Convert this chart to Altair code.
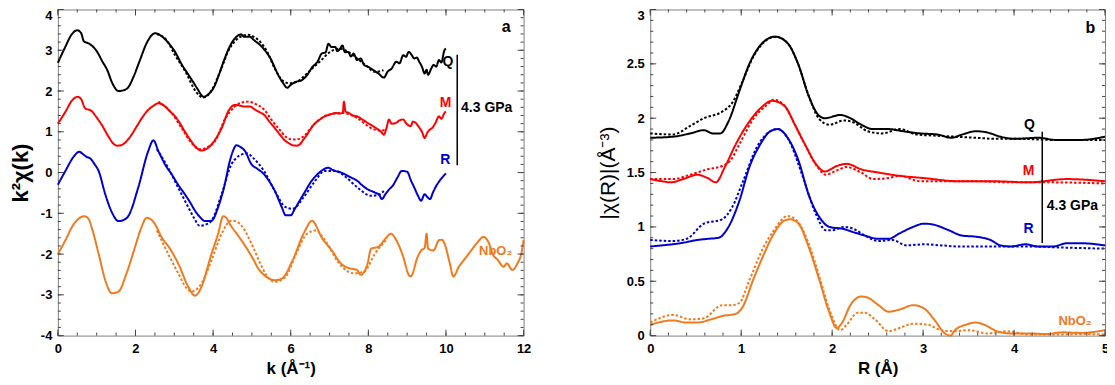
import altair as alt
import pandas as pd

FONT = "Liberation Sans"
FRAME = "#808080"
TICK = "#444444"
SERIES = ["Q", "M", "R", "NbO2"]
SERIES_COLORS = ["#000000", "#ff0000", "#0000cc", "#f07a1e"]

# ---------------- panel a : k^2 chi(k) ----------------
q_exp = [(0, 2.69), (0.2, 3.1), (0.35, 3.38), (0.5, 3.49), (0.6, 3.42), (0.67, 3.22), (0.81, 3.16), (1.0, 2.98),
         (1.15, 2.72), (1.27, 2.52), (1.4, 2.2), (1.56, 2.0), (1.7, 2.02), (1.82, 2.1), (1.95, 2.35), (2.1, 2.72),
         (2.3, 3.2), (2.51, 3.42), (2.65, 3.36), (2.83, 3.2), (3.02, 2.96), (3.2, 2.64), (3.35, 2.42), (3.48, 2.23),
         (3.6, 2.05), (3.75, 1.86), (3.88, 1.92), (4.03, 2.11), (4.15, 2.4), (4.3, 2.8), (4.49, 3.2), (4.6, 3.33),
         (4.72, 3.39), (4.8, 3.33), (4.95, 3.33), (5.05, 3.25), (5.22, 3.12), (5.35, 2.98), (5.5, 2.76), (5.6, 2.55),
         (5.68, 2.39), (5.8, 2.2), (5.91, 2.08), (6.0, 2.15), (6.14, 2.23), (6.25, 2.25), (6.42, 2.39), (6.55, 2.58),
         (6.69, 2.72), (6.8, 2.92), (6.9, 2.95), (6.97, 3.16), (7.05, 3.08), (7.15, 3.08), (7.2, 2.98), (7.28, 3.05),
         (7.33, 3.12), (7.4, 2.95), (7.48, 2.96), (7.55, 2.85), (7.62, 2.92), (7.71, 2.76), (7.8, 2.8), (7.89, 2.64),
         (7.98, 2.6), (8.07, 2.55), (8.15, 2.5), (8.26, 2.43), (8.4, 2.33), (8.5, 2.48), (8.6, 2.55), (8.72, 2.72),
         (8.8, 2.68), (8.9, 2.88), (8.97, 2.84), (9.04, 2.96), (9.12, 2.88), (9.18, 2.8), (9.25, 2.82), (9.31, 2.72),
         (9.38, 2.6), (9.45, 2.43), (9.5, 2.52), (9.54, 2.4), (9.62, 2.55), (9.68, 2.64), (9.75, 2.6), (9.82, 2.76),
         (9.88, 2.7), (9.96, 3.0), (10.0, 3.04)]
q_fit = [(2.55, 3.4), (2.8, 3.25), (3.02, 2.88), (3.29, 2.47), (3.56, 1.98), (3.75, 1.84), (3.95, 2.0), (4.21, 2.55),
         (4.4, 3.0), (4.58, 3.24), (4.75, 3.35), (4.9, 3.38), (5.05, 3.33), (5.22, 3.2), (5.4, 2.95), (5.59, 2.55),
         (5.8, 2.25), (5.96, 2.19), (6.15, 2.22), (6.33, 2.35), (6.55, 2.55), (6.79, 2.76), (7.0, 2.95), (7.25, 3.04),
         (7.5, 2.95), (7.71, 2.8), (7.95, 2.62), (8.17, 2.47), (8.39, 2.51)]
m_exp = [(0, 1.2), (0.2, 1.5), (0.35, 1.75), (0.51, 1.86), (0.6, 1.8), (0.7, 1.58), (0.87, 1.51), (1.0, 1.35),
         (1.13, 1.17), (1.3, 0.89), (1.42, 0.72), (1.53, 0.66), (1.65, 0.68), (1.77, 0.77), (1.9, 0.93), (2.03, 1.13),
         (2.16, 1.33), (2.29, 1.5), (2.45, 1.63), (2.59, 1.7), (2.75, 1.63), (2.89, 1.5), (3.02, 1.38), (3.15, 1.2),
         (3.27, 1.01), (3.4, 0.82), (3.53, 0.65), (3.7, 0.54), (3.83, 0.58), (3.96, 0.69), (4.1, 0.88), (4.22, 1.09),
         (4.39, 1.5), (4.56, 1.66), (4.7, 1.64), (4.82, 1.62), (4.95, 1.62), (5.07, 1.55), (5.2, 1.48), (5.31, 1.42),
         (5.45, 1.25), (5.59, 1.09), (5.73, 0.92), (5.87, 0.77), (5.95, 0.72), (6.05, 0.67), (6.15, 0.66), (6.23, 0.69),
         (6.32, 0.8), (6.42, 0.93), (6.5, 1.05), (6.6, 1.18), (6.75, 1.3), (6.88, 1.38), (7.0, 1.42), (7.15, 1.46),
         (7.25, 1.45), (7.34, 1.46), (7.37, 1.74), (7.41, 1.5), (7.5, 1.46), (7.6, 1.4), (7.71, 1.38), (7.85, 1.3),
         (7.98, 1.22), (8.1, 1.15), (8.26, 1.05), (8.33, 1.0), (8.4, 0.93), (8.47, 1.1), (8.53, 1.3), (8.6, 1.2),
         (8.72, 1.22), (8.8, 1.28), (8.9, 1.3), (8.98, 1.2), (9.09, 1.14), (9.15, 1.25), (9.22, 1.22), (9.3, 1.12),
         (9.38, 1.0), (9.45, 0.85), (9.52, 0.98), (9.58, 1.05), (9.64, 1.09), (9.72, 1.2), (9.82, 1.38), (9.88, 1.32),
         (9.96, 1.46), (10.0, 1.5)]
m_fit = [(2.59, 1.74), (2.93, 1.46), (3.19, 1.09), (3.44, 0.73), (3.66, 0.57), (3.85, 0.62), (4.05, 0.77),
         (4.3, 1.3), (4.56, 1.62), (4.75, 1.72), (4.9, 1.74), (5.1, 1.68), (5.31, 1.55), (5.5, 1.3), (5.68, 1.09),
         (5.87, 0.88), (6.05, 0.81), (6.2, 0.82), (6.33, 0.89), (6.6, 1.18), (6.97, 1.42), (7.34, 1.46), (7.71, 1.34),
         (8.07, 1.09), (8.3, 1.03), (8.44, 1.05)]
r_exp = [(0, -0.3), (0.2, 0.05), (0.4, 0.38), (0.55, 0.51), (0.65, 0.45), (0.75, 0.38), (0.83, 0.35), (0.95, 0.2),
         (1.05, 0.04), (1.22, -0.53), (1.39, -0.97), (1.56, -1.19), (1.7, -1.16), (1.82, -1.06), (2.07, -0.37),
         (2.33, 0.53), (2.46, 0.79), (2.59, 0.53), (2.76, 0.2), (2.93, -0.04), (3.1, -0.3), (3.27, -0.53),
         (3.4, -0.72), (3.53, -0.93), (3.65, -1.08), (3.79, -1.19), (3.96, -1.18), (4.13, -0.85), (4.3, -0.29),
         (4.43, 0.28), (4.52, 0.55), (4.6, 0.67), (4.7, 0.63), (4.82, 0.53), (4.99, 0.2), (5.13, 0.1), (5.31, -0.04),
         (5.45, -0.22), (5.59, -0.45), (5.77, -0.85), (5.87, -1.05), (6.0, -1.05), (6.1, -0.9), (6.23, -0.69),
         (6.38, -0.45), (6.51, -0.24), (6.65, -0.08), (6.79, 0.04), (6.97, 0.12), (7.05, 0.08), (7.15, 0.04),
         (7.3, 0.0), (7.43, -0.06), (7.55, -0.12), (7.71, -0.2), (7.85, -0.32), (7.98, -0.41), (8.17, -0.49),
         (8.28, -0.55), (8.35, -0.65), (8.44, -0.53), (8.53, -0.42), (8.63, -0.32), (8.75, -0.12), (8.86, 0.04),
         (9.0, 0.02), (9.1, -0.2), (9.18, -0.36), (9.27, -0.55), (9.36, -0.69), (9.45, -0.53), (9.52, -0.6),
         (9.59, -0.65), (9.66, -0.5), (9.73, -0.36), (9.8, -0.25), (9.87, -0.16), (9.94, -0.08), (10.0, -0.02)]
r_fit = [(2.55, 0.57), (2.84, 0.12), (3.1, -0.37), (3.36, -0.85), (3.5, -1.1), (3.66, -1.31), (3.8, -1.28),
         (3.96, -1.18), (4.22, -0.53), (4.47, 0.2), (4.6, 0.36), (4.73, 0.44), (4.88, 0.47), (5.03, 0.36),
         (5.31, 0.04), (5.59, -0.45), (5.87, -0.85), (6.05, -0.89), (6.33, -0.61), (6.6, -0.24), (6.88, 0.04),
         (7.15, 0.04), (7.43, -0.12), (7.71, -0.36), (8.07, -0.57), (8.25, -0.55), (8.4, -0.45)]
n_exp = [(0, -2.0), (0.2, -1.65), (0.36, -1.34), (0.55, -1.12), (0.69, -1.07), (0.8, -1.15), (0.87, -1.34),
         (1.05, -1.99), (1.22, -2.64), (1.39, -2.96), (1.56, -2.92), (1.77, -2.47), (1.99, -1.82), (2.15, -1.35),
         (2.29, -1.11), (2.4, -1.15), (2.5, -1.26), (2.67, -1.58), (2.89, -1.87), (3.1, -2.23), (3.36, -2.8),
         (3.53, -3.02), (3.62, -2.95), (3.7, -2.8), (3.96, -1.99), (4.13, -1.5), (4.26, -1.07), (4.35, -1.12),
         (4.43, -1.26), (4.64, -1.54), (4.9, -1.91), (5.07, -2.19), (5.13, -2.3), (5.36, -2.55), (5.59, -2.64),
         (5.77, -2.6), (6.05, -2.15), (6.33, -1.5), (6.56, -1.18), (6.6, -1.22), (6.79, -1.58), (7.06, -1.91),
         (7.29, -2.23), (7.52, -2.35), (7.71, -2.39), (7.8, -2.51), (7.98, -2.23), (8.07, -1.87), (8.26, -1.82),
         (8.44, -1.62), (8.58, -1.5), (8.72, -1.66), (8.9, -2.07), (9.04, -2.51), (9.09, -2.55), (9.27, -2.07),
         (9.36, -1.91), (9.45, -1.85), (9.5, -1.5), (9.54, -1.87), (9.68, -1.91), (9.82, -1.66), (9.9, -1.65),
         (9.96, -1.74), (10.1, -2.23), (10.19, -2.55), (10.33, -2.31), (10.46, -2.15), (10.65, -1.91),
         (10.79, -1.74), (10.97, -1.58), (11.11, -1.74), (11.2, -1.99), (11.34, -2.15), (11.48, -2.31),
         (11.57, -2.23), (11.71, -2.39), (11.84, -2.23), (11.94, -1.99), (12.0, -1.66)]
n_fit = [(2.55, -1.42), (2.84, -1.99), (3.1, -2.47), (3.32, -2.84), (3.44, -2.92), (3.7, -2.72), (3.96, -2.15),
         (4.22, -1.5), (4.47, -1.18), (4.6, -1.2), (4.73, -1.3), (5.03, -1.83), (5.2, -2.2), (5.4, -2.55),
         (5.59, -2.68), (5.87, -2.55), (6.14, -1.99), (6.42, -1.5), (6.65, -1.42), (6.88, -1.66), (7.25, -2.23),
         (7.61, -2.47), (7.89, -2.43), (8.17, -1.99), (8.49, -1.62)]

# ---------------- panel b : |chi(R)| ----------------
qR_exp = [(0, 1.82), (0.25, 1.83), (0.44, 1.86), (0.59, 1.89), (0.69, 1.86), (0.77, 1.86), (0.86, 1.97),
          (0.98, 2.25), (1.09, 2.5), (1.21, 2.67), (1.37, 2.75), (1.51, 2.69), (1.63, 2.49), (1.74, 2.21),
          (1.86, 2.02), (1.92, 2.0), (2.09, 2.03), (2.2, 2.0), (2.32, 1.94), (2.45, 1.9), (2.62, 1.9), (2.78, 1.88),
          (2.97, 1.86), (3.16, 1.85), (3.31, 1.82), (3.43, 1.85), (3.58, 1.88), (3.7, 1.87), (3.85, 1.83),
          (4.0, 1.81), (4.27, 1.82), (4.46, 1.8), (4.73, 1.8), (5.0, 1.83)]
qR_fit = [(0, 1.86), (0.25, 1.85), (0.44, 1.93), (0.59, 2.0), (0.79, 2.06), (0.9, 2.14), (1.02, 2.35), (1.13, 2.56),
          (1.28, 2.72), (1.38, 2.75), (1.51, 2.69), (1.63, 2.49), (1.74, 2.21), (1.86, 1.99), (1.97, 1.94),
          (2.13, 1.98), (2.24, 1.96), (2.39, 1.88), (2.55, 1.86), (2.74, 1.9), (2.93, 1.85), (3.12, 1.84),
          (3.35, 1.83), (3.58, 1.82), (3.81, 1.81), (4.08, 1.81), (4.43, 1.8), (5.0, 1.8)]
mR_exp = [(0, 1.44), (0.13, 1.42), (0.23, 1.41), (0.36, 1.44), (0.52, 1.48), (0.63, 1.45), (0.72, 1.41),
          (0.82, 1.55), (0.94, 1.76), (1.09, 1.97), (1.21, 2.09), (1.34, 2.16), (1.48, 2.11), (1.59, 1.94),
          (1.7, 1.76), (1.82, 1.58), (1.92, 1.51), (2.05, 1.56), (2.16, 1.58), (2.32, 1.53), (2.51, 1.5),
          (2.74, 1.47), (3.0, 1.45), (3.39, 1.42), (3.77, 1.42), (4.16, 1.41), (4.58, 1.44), (5.0, 1.42)]
mR_fit = [(0, 1.44), (0.25, 1.44), (0.44, 1.48), (0.63, 1.53), (0.79, 1.56), (0.88, 1.61), (0.98, 1.76),
          (1.13, 1.99), (1.28, 2.12), (1.36, 2.17), (1.48, 2.11), (1.59, 1.94), (1.7, 1.76), (1.84, 1.55),
          (1.93, 1.48), (2.05, 1.52), (2.16, 1.55), (2.32, 1.5), (2.45, 1.44), (2.62, 1.45), (2.74, 1.47),
          (2.97, 1.42), (3.2, 1.42), (3.58, 1.42), (3.97, 1.41), (4.35, 1.41), (5.0, 1.4)]
rR_exp = [(0, 0.82), (0.13, 0.83), (0.33, 0.85), (0.52, 0.88), (0.63, 0.89), (0.75, 0.9), (0.86, 1.0),
          (0.98, 1.24), (1.09, 1.55), (1.21, 1.76), (1.32, 1.88), (1.4, 1.9), (1.51, 1.82), (1.63, 1.61),
          (1.74, 1.3), (1.86, 1.09), (1.97, 1.0), (2.13, 0.98), (2.24, 0.95), (2.36, 0.92), (2.51, 0.89),
          (2.62, 0.89), (2.74, 0.94), (2.89, 1.0), (3.01, 1.03), (3.12, 1.02), (3.28, 0.97), (3.43, 0.92),
          (3.58, 0.91), (3.74, 0.88), (3.85, 0.83), (3.97, 0.82), (4.12, 0.84), (4.27, 0.82), (4.43, 0.82),
          (4.58, 0.85), (4.73, 0.85), (5.0, 0.83)]
rR_fit = [(0, 0.88), (0.25, 0.87), (0.4, 0.89), (0.59, 1.03), (0.79, 1.07), (0.9, 1.18), (1.02, 1.42),
          (1.17, 1.73), (1.32, 1.88), (1.4, 1.9), (1.51, 1.82), (1.67, 1.48), (1.82, 1.12), (1.93, 0.97),
          (2.01, 0.97), (2.13, 1.0), (2.24, 0.98), (2.36, 0.92), (2.51, 0.87), (2.66, 0.88), (2.82, 0.83),
          (3.01, 0.84), (3.2, 0.83), (3.39, 0.82), (3.58, 0.82), (3.89, 0.82), (4.16, 0.82), (4.54, 0.81),
          (5.0, 0.8)]
nR_exp = [(0, 0.1), (0.25, 0.14), (0.4, 0.12), (0.52, 0.12), (0.67, 0.15), (0.79, 0.18), (0.94, 0.2),
          (1.02, 0.27), (1.13, 0.51), (1.25, 0.75), (1.36, 0.94), (1.48, 1.06), (1.54, 1.07), (1.63, 1.03),
          (1.74, 0.82), (1.86, 0.51), (1.97, 0.21), (2.05, 0.07), (2.11, 0.12), (2.2, 0.28), (2.32, 0.36),
          (2.39, 0.35), (2.51, 0.28), (2.62, 0.22), (2.74, 0.24), (2.89, 0.28), (3.01, 0.25), (3.12, 0.15),
          (3.24, 0.02), (3.3, 0.0), (3.35, 0.05), (3.47, 0.1), (3.58, 0.12), (3.7, 0.09), (3.81, 0.04),
          (3.97, 0.02), (4.16, 0.02), (4.35, 0.015), (4.54, 0.03), (4.73, 0.025), (5.0, 0.05)]
nR_fit = [(0, 0.12), (0.25, 0.19), (0.44, 0.15), (0.59, 0.16), (0.79, 0.28), (0.9, 0.28), (0.98, 0.3),
          (1.09, 0.51), (1.25, 0.82), (1.36, 0.97), (1.51, 1.1), (1.63, 1.04), (1.74, 0.85), (1.86, 0.54),
          (1.97, 0.24), (2.09, 0.05), (2.16, 0.1), (2.28, 0.21), (2.36, 0.21), (2.47, 0.15), (2.62, 0.04),
          (2.74, 0.07), (2.89, 0.11), (3.05, 0.1), (3.2, 0.05), (3.35, 0.04), (3.51, 0.05), (3.7, 0.02),
          (3.93, 0.04), (4.16, 0.01), (4.43, 0.01), (4.73, 0.015), (5.0, 0.01)]

# annotations: (text, x, y, colour, size)
labels_a = [("Q", 10.05, 2.7, "#000000", 14), ("M", 9.99, 1.71, "#ff0000", 14), ("R", 9.98, 0.32, "#0000cc", 14),
            ("NbO₂", 11.28, -1.92, "#f07a1e", 13), ("a", 11.55, 3.57, "#000000", 16)]
gpa_a = [("4.3 GPa", 10.39, 1.58)]
bar_a = [(10.29, 0.18, 2.89)]
labels_b = [("Q", 4.17, 1.94, "#000000", 14), ("M", 4.16, 1.51, "#ff0000", 14), ("R", 4.16, 0.98, "#0000cc", 14),
            ("NbO₂", 4.67, 0.137, "#f07a1e", 13), ("b", 4.84, 2.83, "#000000", 16)]
gpa_b = [("4.3 GPa", 4.36, 1.19)]
bar_b = [(4.31, 0.853, 1.875)]

# tick positions
a_x_major = [0, 2, 4, 6, 8, 10, 12]
a_x_minor = [i * 0.5 for i in range(25)]
a_y_major = [-4, -3, -2, -1, 0, 1, 2, 3, 4]
a_y_minor = [round(-4 + i * 0.2, 1) for i in range(41)]
b_x_major = [0, 1, 2, 3, 4, 5]
b_x_minor = [round(i * 0.2, 1) for i in range(26)]
b_y_major = [0, 0.5, 1, 1.5, 2, 2.5, 3]
b_y_minor = [round(i * 0.1, 1) for i in range(31)]

MAJOR_PX, MINOR_PX = 6, 3


def curves(groups):
    rows = []
    for series, kind, pts in groups:
        for i, (x, y) in enumerate(pts):
            rows.append({"x": x, "y": y, "series": series, "kind": kind, "grp": series + kind, "idx": i})
    return pd.DataFrame(rows)


def tick_layers(xs, ys, xdom, ydom, xmaj, xmin, ymaj, ymin, W, H):
    # inward ticks on all four frame edges: vertical ones for x, horizontal ones for y
    ux = (xdom[1] - xdom[0]) / W
    uy = (ydom[1] - ydom[0]) / H
    vrows, hrows = [], []
    for vals, px in [(xmin, MINOR_PX), (xmaj, MAJOR_PX)]:
        for v in vals:
            vrows.append({"x": v, "y": ydom[0], "y2": ydom[0] + px * uy})
            vrows.append({"x": v, "y": ydom[1], "y2": ydom[1] - px * uy})
    for vals, px in [(ymin, MINOR_PX), (ymaj, MAJOR_PX)]:
        for v in vals:
            hrows.append({"y": v, "x": xdom[0], "x2": xdom[0] + px * ux})
            hrows.append({"y": v, "x": xdom[1], "x2": xdom[1] - px * ux})
    vt = alt.Chart(pd.DataFrame(vrows)).mark_rule(color=TICK, strokeWidth=1).encode(
        x=alt.X("x:Q", scale=xs, axis=None),
        y=alt.Y("y:Q", scale=ys, axis=None), y2="y2:Q")
    ht = alt.Chart(pd.DataFrame(hrows)).mark_rule(color=TICK, strokeWidth=1).encode(
        x=alt.X("x:Q", scale=xs, axis=None), x2="x2:Q",
        y=alt.Y("y:Q", scale=ys, axis=None))
    return [vt, ht]


def panel(df, labels, gpa, bar, xdom, ydom, xmaj, xmin, ymaj, ymin, W, H,
          xtitle, ytitle, ytitle_size, ytitle_weight, top_test):
    xs = alt.Scale(domain=xdom, nice=False, zero=False)
    ys = alt.Scale(domain=ydom, nice=False, zero=False)
    main_x = alt.Axis(orient="bottom", values=xmaj, ticks=False, domain=False, grid=False, labelFlush=False,
                      labelFont=FONT, labelFontWeight="bold", labelFontSize=13, labelColor="black",
                      labelPadding=7, title=xtitle, titleFont=FONT, titleFontWeight="bold",
                      titleFontSize=17, titleColor="black", titlePadding=5)
    main_y = alt.Axis(orient="left", values=ymaj, ticks=False, domain=False, grid=False, labelFlush=False,
                      labelFont=FONT, labelFontWeight="bold", labelFontSize=13, labelColor="black",
                      labelPadding=6, labelExpr="replace(format(datum.value, '~g'), '\u2212', '-')",
                      labelBaseline={"condition": {"test": top_test, "value": "top"}, "value": "middle"},
                      title=ytitle, titleFont=FONT, titleFontWeight=ytitle_weight, titleFontSize=ytitle_size,
                      titleColor="black", titlePadding=8)
    lines = alt.Chart(df).mark_line(strokeWidth=2, interpolate="monotone").encode(
        x=alt.X("x:Q", scale=xs, axis=main_x),
        y=alt.Y("y:Q", scale=ys, axis=main_y),
        color=alt.Color("series:N", scale=alt.Scale(domain=SERIES, range=SERIES_COLORS), legend=None),
        strokeDash=alt.StrokeDash("kind:N", scale=alt.Scale(domain=["exp", "fit"], range=[[1, 0], [2.5, 2]]),
                                  legend=None),
        detail="grp:N",
        order="idx:Q",
    )
    ticks = tick_layers(xs, ys, xdom, ydom, xmaj, xmin, ymaj, ymin, W, H)

    ldf = pd.DataFrame(labels, columns=["text", "x", "y", "color", "size"])
    texts = alt.Chart(ldf).mark_text(font=FONT, fontWeight="bold", align="center", baseline="middle").encode(
        x=alt.X("x:Q", scale=xs, axis=None), y=alt.Y("y:Q", scale=ys, axis=None),
        text="text:N", color=alt.Color("color:N", scale=None), size=alt.Size("size:Q", scale=None))
    gdf = pd.DataFrame(gpa, columns=["text", "x", "y"])
    gtext = alt.Chart(gdf).mark_text(font=FONT, fontWeight="bold", align="left", baseline="middle",
                                     fontSize=14, color="black").encode(
        x=alt.X("x:Q", scale=xs, axis=None), y=alt.Y("y:Q", scale=ys, axis=None), text="text:N")
    bdf = pd.DataFrame(bar, columns=["x", "y", "y2"])
    rule = alt.Chart(bdf).mark_rule(color="black", strokeWidth=1.5).encode(
        x=alt.X("x:Q", scale=xs, axis=None), y=alt.Y("y:Q", scale=ys, axis=None), y2="y2:Q")
    return alt.layer(lines, *ticks, texts, gtext, rule).resolve_axis(
        x="independent", y="independent").properties(width=W, height=H)


df_a = curves([("Q", "exp", q_exp), ("Q", "fit", q_fit), ("M", "exp", m_exp), ("M", "fit", m_fit),
               ("R", "exp", r_exp), ("R", "fit", r_fit), ("NbO2", "exp", n_exp), ("NbO2", "fit", n_fit)])
df_b = curves([("Q", "exp", qR_exp), ("Q", "fit", qR_fit), ("M", "exp", mR_exp), ("M", "fit", mR_fit),
               ("R", "exp", rR_exp), ("R", "fit", rR_fit), ("NbO2", "exp", nR_exp), ("NbO2", "fit", nR_fit)])

W_A, W_B, H = 467, 456, 327
left = panel(df_a, labels_a, gpa_a, bar_a, [0, 12], [-4, 4], a_x_major, a_x_minor, a_y_major, a_y_minor,
             W_A, H, "k (Å⁻¹)", "k²χ(k)", 22, "bold", "datum.value >= 3.99")
right = panel(df_b, labels_b, gpa_b, bar_b, [0, 5], [0, 3], b_x_major, b_x_minor, b_y_major, b_y_minor,
              W_B, H, "R (Å)", "|χ(R)|(Å⁻³)", 21, "normal", "datum.value >= 2.99")

chart = alt.hconcat(left, right, spacing=127, bounds="flush").properties(
    padding={"left": 0, "top": 0, "right": -3, "bottom": 0}
).configure_view(stroke=FRAME, strokeWidth=1)

chart.save("out.html", embed_options={"renderer": "svg", "actions": False})
